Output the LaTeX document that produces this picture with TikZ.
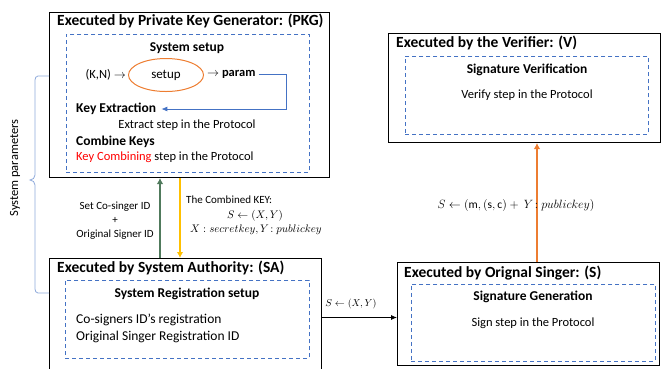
\documentclass[tikz,border=0pt]{standalone}
\usepackage{fontspec}
\setmainfont{Carlito}
\usetikzlibrary{arrows.meta,shapes.geometric}
\definecolor{stepblue}{HTML}{4472C4}
\definecolor{keyorange}{HTML}{ED7D31}
\definecolor{keygold}{HTML}{FFC000}
\definecolor{keygreen}{HTML}{507A5C}
\definecolor{bracegray}{HTML}{8EA9DB}
\tikzset{
  party/.style={draw,line width=1pt,anchor=north west,inner sep=0pt},
  stage/.style={draw=stepblue,dash pattern=on 4pt off 3pt,line width=0.9pt,
    anchor=north west,inner sep=0pt},
  heading/.style={anchor=west,inner sep=0pt,font=\fontsize{15.5}{17}\selectfont\bfseries},
  stagetitle/.style={inner sep=0pt,font=\fontsize{13.5}{15}\selectfont\bfseries},
  body/.style={inner sep=0pt,font=\fontsize{12.5}{14}\selectfont},
  note/.style={inner sep=0pt,font=\fontsize{11}{14}\selectfont},
  formula/.style={inner sep=0pt,font=\fontsize{11}{13}\selectfont},
  flow/.style={line width=0.8pt,-{Latex[length=6pt,width=5pt]}},
  keyflow/.style={line width=2.4pt,-{Latex[length=6pt,width=6.5pt]}}
}

\begin{document}
\begin{tikzpicture}[x=1pt,y=-1pt]
  \useasboundingbox (0,0) rectangle (662,368);
  % the four parties
  \node[party,minimum width=280pt,minimum height=165pt] (pkg) at (49,12) {};
  \node[stage,minimum width=243pt,minimum height=138pt] (pkgin) at (66,34) {};
  \node[party,minimum width=272pt,minimum height=118pt] (sa) at (49,258) {};
  \node[stage,minimum width=244pt,minimum height=78pt] (sain) at (65,280) {};
  \node[party,minimum width=262pt,minimum height=103pt] (s) at (397,262) {};
  \node[stage,minimum width=244pt,minimum height=77pt] (sgenin) at (411,283.5) {};
  \node[party,minimum width=272pt,minimum height=109pt] (v) at (388,33) {};
  \node[stage,minimum width=243pt,minimum height=78pt] (vin) at (405,56) {};
  \node[heading] (pkgtitle) at (57,21) {Executed by Private Key Generator: (PKG)};
  \node[heading] (satitle) at (57,268) {Executed by System Authority: (SA)};
  \node[heading] (stitle) at (404,273) {Executed by Orignal Singer: (S)};
  \node[heading] (vtitle) at (396,43) {Executed by the Verifier: (V)};

  % PKG
  \node[stagetitle] (syssetup) at (187,48) {System setup};
  \node[ellipse,draw=keyorange,line width=1pt,minimum width=75pt,minimum height=33pt,
    inner sep=0pt,font=\fontsize{13}{15}\selectfont] (setup) at (166,75) {setup};
  \node[body,anchor=east] (kn) at (126,75) {(K,N) $\rightarrow$};
  \node[body,anchor=west] (param) at (207,74) {$\rightarrow$ \textbf{param}};
  \node[stagetitle,anchor=west] (keyext) at (76,109) {Key Extraction};
  \node[body] (extract) at (187,125) {Extract step in the Protocol};
  \node[stagetitle,anchor=west] (combine) at (76,142) {Combine Keys};
  \node[body,anchor=west] (combstep) at (76,157) {\textcolor{red}{Key Combining} step in the Protocol};
  \coordinate (turn) at (286,109);
  \draw[flow,stepblue,shorten <=3pt,shorten >=5pt] (param.east) -| (turn) -- (keyext.east);

  % SA
  \node[stagetitle] (sysreg) at (187,294) {System Registration setup};
  \node[body,anchor=west,font=\fontsize{13.5}{15}\selectfont] (coreg) at (76,320) {Co-signers ID’s registration};
  \node[body,anchor=west,font=\fontsize{13.5}{15}\selectfont] (origreg) at (76,337) {Original Singer Registration ID};

  % S and V
  \node[stagetitle] (siggen) at (533,297) {Signature Generation};
  \node[body] (signstep) at (533,323) {Sign step in the Protocol};
  \node[stagetitle] (sigver) at (527,70) {Signature Verification};
  \node[body] (verstep) at (527,95) {Verify step in the Protocol};

  % key exchange between PKG and SA
  \coordinate (gx) at (160,0);
  \coordinate (yx) at (180,0);
  \draw[keyflow,keygreen] (gx |- sa.north) -- (gx |- pkg.south);
  \draw[keyflow,keygold] (yx |- pkg.south) -- (yx |- sa.north);
  \node[note,align=center] (setid) at (115,221) {Set Co-singer ID\\+\\Original Signer ID};
  \node[note,anchor=west] (combkey) at (186,200) {The Combined KEY:};
  \node[formula] (sxy) at (255,216) {$S \leftarrow (X,Y)$};
  \node[formula] (xy) at (256,230) {$X : secretkey, Y\!: publickey$};

  % SA to S, S to V
  \draw[flow] (sa.east) -- (sa.east -| s.west);
  \node[formula,font=\fontsize{10}{12}\selectfont] (sendkey) at (351,304) {$S \leftarrow (X,Y)$};
  \coordinate (ox) at (537,0);
  \draw[keyflow,keyorange,line width=1.6pt] (ox |- s.north) -- (ox |- v.south);
  \node[formula,font=\fontsize{11.5}{13}\selectfont] (sendsig) at (516,205)
    {$S \leftarrow (\mathrm{m},(\mathrm{s},\mathrm{c}) +\ Y\!: publickey)$};

  % system parameters brace
  \draw[bracegray,line width=0.8pt] (pkg.west |- 0,76) -- (38,76) to[out=180,in=90] (35,80)
    -- (35,175) to[out=-90,in=0] (30,180) to[out=0,in=90] (35,185) -- (35,289)
    to[out=-90,in=180] (38,293) -- (sa.west |- 0,293);
  \node[rotate=90,inner sep=0pt,font=\fontsize{12.5}{14}\selectfont] (syspar) at (15,168) {System parameters};
\end{tikzpicture}
\end{document}
